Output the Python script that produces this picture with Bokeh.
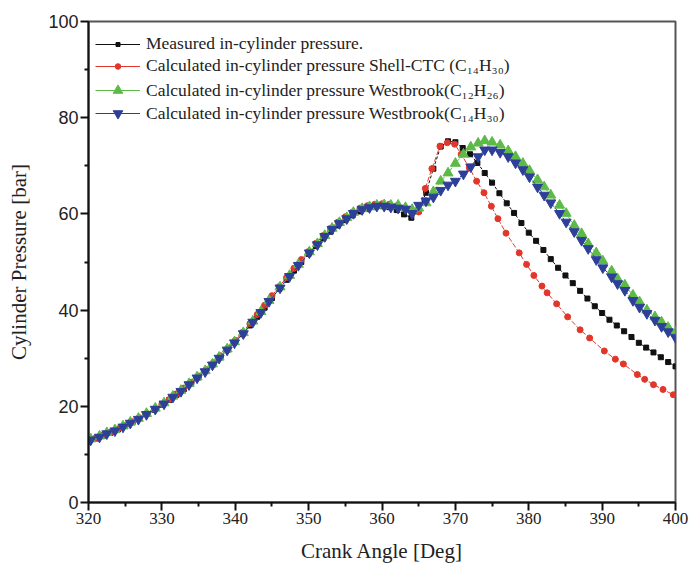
from bokeh.plotting import figure
from bokeh.models import Legend, LegendItem, Range1d, FixedTicker
from bokeh.embed import file_html
from bokeh.resources import INLINE

# ---------------- data ----------------
angle_measured = [320, 321, 322, 323, 324, 325, 326, 327, 328, 329,
                  330, 331, 332, 333, 334, 335, 336, 337, 338, 339,
                  340, 341, 342, 343, 344, 345, 346, 347, 348, 349,
                  350, 351, 352, 353, 354, 355, 356, 357, 358, 359,
                  360, 361, 362, 363, 364, 365, 366, 367, 368, 369,
                  370, 371, 372, 373, 374, 375, 376, 377, 378, 379,
                  380, 381, 382, 383, 384, 385, 386, 387, 388, 389,
                  390, 391, 392, 393, 394, 395, 396, 397, 398, 399, 400]
p_measured = [12.7, 13.3, 13.9, 14.5, 15.2, 15.9, 16.7, 17.5, 18.4, 19.3,
              20.3, 21.3, 22.4, 23.6, 24.8, 26.0, 27.3, 28.7, 30.2, 31.8,
              33.4, 35.0, 36.8, 38.6, 40.5, 42.5, 44.4, 46.3, 48.2, 50.0,
              51.7, 53.3, 54.9, 56.3, 57.6, 58.7, 59.7, 60.5, 61.0, 61.4,
              61.6, 61.4, 60.8, 59.9, 59.2, 60.6, 64.4, 69.4, 74.0, 75.1,
              74.9, 73.7, 72.4, 70.6, 68.5, 66.5, 64.3, 62.2, 60.2, 58.1,
              56.1, 54.4, 52.5, 50.6, 48.8, 47.2, 45.6, 44.0, 42.4, 40.8,
              39.4, 38.0, 36.8, 35.6, 34.4, 33.2, 32.2, 31.2, 30.2, 29.2, 28.3]

angle_shell = [320, 321, 322, 323, 324, 325, 326, 327, 328, 329,
               330, 331, 332, 333, 334, 335, 336, 337, 338, 339,
               340, 341, 342, 343, 344, 345, 346, 347, 348, 349,
               350, 351, 352, 353, 354, 355, 356, 357, 358, 359,
               360, 361, 362, 363, 364, 365.0, 365.9, 366.8, 367.9, 368.9,
               369.9, 370.8, 371.9, 372.9, 373.9, 374.9, 375.8, 376.9, 378.7, 379.7,
               380.7, 381.8, 382.5, 383.8, 385.3, 387.0, 388.3, 390.3, 391.8, 392.9,
               394.8, 395.8, 397.0, 398.3, 399.7]
p_shell = [12.8, 13.4, 14.0, 14.6, 15.3, 16.0, 16.8, 17.6, 18.5, 19.4,
           20.4, 21.4, 22.6, 23.8, 25.0, 26.3, 27.6, 29.0, 30.5, 32.1,
           33.7, 35.4, 37.2, 39.1, 41.0, 43.0, 44.9, 46.8, 48.7, 50.5,
           52.2, 53.9, 55.5, 57.0, 58.3, 59.4, 60.4, 61.2, 61.7, 62.0,
           62.1, 62.0, 61.7, 61.1, 60.9, 60.4, 65.3, 69.4, 74.1, 74.8,
           74.5, 72.4, 69.6, 66.8, 64.4, 61.6, 59.0, 56.0, 51.9, 49.5,
           47.2, 45.0, 43.6, 41.3, 38.6, 35.9, 34.2, 31.5, 29.8, 28.8,
           26.6, 25.6, 24.5, 23.5, 22.4]

angle_westbrook = [320.3, 321.5, 322.5, 323.6, 324.7, 325.7, 326.8, 327.9, 329.1, 330.3,
                   331.5, 332.6, 333.7, 334.8, 335.9, 336.9, 337.8, 338.9, 339.9, 341.1,
                   342.4, 343.5, 344.6, 346.1, 347.4, 348.6, 350.1, 351.2, 352.2, 353.2,
                   354.2, 355.2, 356.1, 357.3, 358.3, 359.3, 360.3, 361.2, 362.2, 363.2,
                   364.1, 365.0, 366.0, 367.0, 368.0, 369.0, 370.0, 371.1, 372.1, 373.1,
                   374.0, 375.0, 376.1, 377.2, 378.2, 379.2, 380.1, 381.2, 382.1, 383.0,
                   384.2, 385.1, 386.2, 387.2, 388.1, 389.2, 390.1, 391.3, 392.1, 393.1,
                   394.2, 395.1, 396.1, 397.2, 398.1, 399.0, 400.0]
p_westbrook_c12 = [13.2, 13.8, 14.5, 15.1, 15.9, 16.7, 17.5, 18.5, 19.6, 20.7,
                   22.1, 23.3, 24.7, 26.1, 27.4, 28.8, 30.2, 31.9, 33.4, 35.3,
                   37.7, 39.7, 42.0, 44.8, 47.2, 49.5, 52.1, 53.8, 55.5, 57.0,
                   58.2, 59.2, 60.3, 61.1, 61.5, 61.8, 61.9, 61.8, 61.8, 61.3,
                   60.9, 61.2, 62.3, 64.6, 66.8, 68.5, 70.5, 72.4, 73.9, 74.7,
                   75.2, 74.9, 74.3, 73.1, 71.9, 70.5, 69.0, 67.1, 65.6, 63.9,
                   61.8, 60.1, 57.6, 55.9, 53.8, 51.9, 50.2, 48.1, 46.5, 45.2,
                   43.1, 41.7, 40.0, 38.6, 37.5, 36.4, 35.4]
p_westbrook_c14 = [13.0, 13.6, 14.3, 14.9, 15.7, 16.5, 17.3, 18.3, 19.4, 20.5,
                   21.9, 23.1, 24.5, 25.9, 27.2, 28.6, 30.0, 31.7, 33.2, 35.1,
                   37.5, 39.5, 41.8, 44.6, 47.0, 49.3, 51.9, 53.6, 55.3, 56.8,
                   58.0, 59.0, 60.1, 60.9, 61.3, 61.6, 61.6, 61.4, 61.2, 61.0,
                   60.1, 61.8, 62.7, 63.5, 64.9, 66.0, 66.8, 68.3, 69.8, 71.9,
                   73.3, 73.3, 72.8, 71.9, 70.6, 69.2, 67.7, 65.6, 63.9, 62.3,
                   60.1, 58.3, 56.3, 54.5, 52.8, 50.5, 48.8, 46.9, 45.5, 44.1,
                   42.0, 40.6, 39.3, 37.9, 36.6, 35.5, 34.3]

x_ticks = [320, 330, 340, 350, 360, 370, 380, 390, 400]
x_minor = [325, 335, 345, 355, 365, 375, 385, 395]
y_ticks = [0, 20, 40, 60, 80, 100]
y_minor = [10, 30, 50, 70, 90]

labels = ["Measured in-cylinder pressure.",
          "Calculated in-cylinder pressure Shell-CTC (C\u2081\u2084H\u2083\u2080)",
          "Calculated in-cylinder pressure Westbrook(C\u2081\u2082H\u2082\u2086)",
          "Calculated in-cylinder pressure Westbrook(C\u2081\u2084H\u2083\u2080)"]

BLACK = "#111111"
RED = "#e3362b"
GREEN = "#5cbb46"
BLUE = "#2e3f9a"
SERIF = "Liberation Serif"
SANS = "Liberation Sans"
NAN = float("nan")

FRAME_H = 481
p = figure(width=690, height=568, output_backend="svg", toolbar_location=None,
           x_range=Range1d(320, 400), y_range=Range1d(0, 100),
           min_border_left=88, min_border_right=15, min_border_top=21,
           min_border_bottom=66)

p.xgrid.visible = False
p.ygrid.visible = False
p.outline_line_color = "#555555"
p.outline_line_width = 2

p.xaxis.ticker = FixedTicker(ticks=x_ticks, minor_ticks=x_minor)
p.yaxis.ticker = FixedTicker(ticks=y_ticks, minor_ticks=y_minor)
for ax in (p.xaxis, p.yaxis):
    ax.axis_line_width = 2
    ax.axis_line_color = "#111111"
    ax.major_tick_line_width = 2
    ax.minor_tick_line_width = 2
    ax.major_tick_line_color = "#111111"
    ax.minor_tick_line_color = "#111111"
    ax.major_tick_in = 0
    ax.major_tick_out = 8
    ax.minor_tick_in = 0
    ax.minor_tick_out = 4
    ax.major_label_standoff = 2
    ax.axis_label_text_font = SERIF
    ax.axis_label_text_font_style = "normal"
    ax.axis_label_text_font_size = "21px"
    ax.axis_label_text_color = "#222222"
    ax.major_label_text_color = "#222222"

p.xaxis.major_label_text_font = SERIF
p.xaxis.major_label_text_font_size = "17px"
p.yaxis.major_label_text_font = SANS
p.yaxis.major_label_text_font_size = "18px"
p.xaxis.axis_label = "Crank Angle [Deg]"
p.yaxis.axis_label = "Cylinder Pressure [bar]"
p.xaxis.axis_label_standoff = 12
p.yaxis.axis_label_standoff = 14

# ---------------- series ----------------
p.line(angle_measured, p_measured, line_color=BLACK, line_width=1, line_dash="3 2")
p.scatter(angle_measured, p_measured, marker="square", size=5,
          fill_color=BLACK, line_color=BLACK)

p.line(angle_shell, p_shell, line_color=RED, line_width=1, line_dash="5 2")
p.scatter(angle_shell, p_shell, marker="circle", size=6,
          fill_color=RED, line_color=RED)

p.line(angle_westbrook, p_westbrook_c12, line_color=GREEN, line_width=1, line_dash="4 2")
p.scatter(angle_westbrook, p_westbrook_c12, marker="triangle", size=10,
          fill_color=GREEN, line_color=GREEN)

p.line(angle_westbrook, p_westbrook_c14, line_color=BLUE, line_width=1, line_dash="4 2")
p.scatter(angle_westbrook, p_westbrook_c14, marker="inverted_triangle", size=10,
          fill_color=BLUE, line_color=BLUE)

# ---------------- legend: one small legend per row so each marker keeps its size ----------------
row_centers = [22, 45, 69, 92]          # px below the frame top
legend_box_h = [10, 14, 24, 24]         # legend glyph box height (marker = 0.4 * box)
row_shift = [3, 2, 0, 0]
TEXT_H = 17                             # approx. measured label height
for lab, col, mk, h, cy, sh in zip(labels, [BLACK, RED, GREEN, BLUE],
                                   ["square", "circle", "triangle", "inverted_triangle"],
                                   legend_box_h, row_centers, row_shift):
    lr = p.line([NAN], [NAN], line_color=col, line_width=1)
    sr = p.scatter([NAN], [NAN], marker=mk, size=6, fill_color=col, line_color=col)
    H = max(h, TEXT_H)
    lg = Legend(items=[LegendItem(label=lab, renderers=[lr, sr])],
                location=(7, int(round(FRAME_H - cy - H / 2 - sh))))
    lg.margin = 0
    lg.padding = 0
    lg.spacing = 0
    lg.glyph_width = 45
    lg.glyph_height = h
    lg.label_height = h
    lg.label_standoff = 6
    lg.label_text_font = SERIF
    lg.label_text_font_size = "17.5px"
    lg.label_text_color = "#222222"
    lg.border_line_alpha = 0
    lg.background_fill_alpha = 0
    p.add_layout(lg)

open("out.html", "w").write(file_html(p, INLINE))
